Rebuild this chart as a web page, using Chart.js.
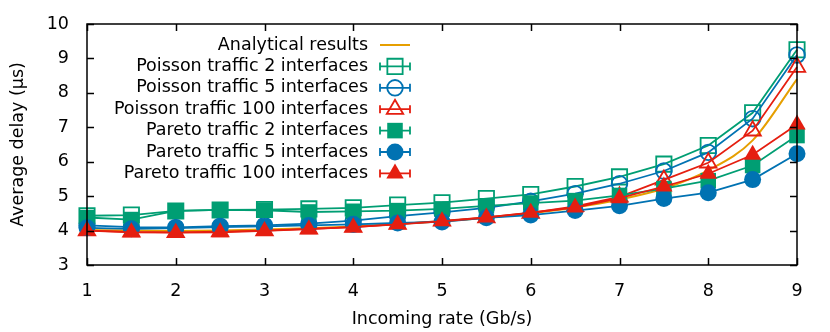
<!DOCTYPE html>
<html><head><meta charset="utf-8">
<script src="https://cdn.jsdelivr.net/npm/chart.js@4"></script>
<style>html,body{margin:0;padding:0;background:#fff}</style>
</head><body>
<canvas id="c" width="830" height="332"></canvas>
<script>
const rates = [1,1.5,2,2.5,3,3.5,4,4.5,5,5.5,6,6.5,7,7.5,8,8.5,9];
const analytical = [4.02,4.00,3.99,4.00,4.03,4.07,4.12,4.19,4.27,4.37,4.50,4.67,4.90,5.22,5.75,6.62,8.40];
const poisson2   = [4.43,4.45,4.57,4.60,4.61,4.63,4.66,4.74,4.81,4.93,5.05,5.28,5.56,5.93,6.47,7.42,9.25];
const poisson5   = [4.15,4.10,4.09,4.13,4.15,4.20,4.29,4.42,4.53,4.66,4.85,5.07,5.36,5.73,6.27,7.25,9.10];
const poisson100 = [4.00,3.96,3.95,3.97,4.00,4.05,4.10,4.19,4.28,4.38,4.51,4.70,4.98,5.47,5.97,6.90,8.75];
const pareto2    = [4.38,4.32,4.57,4.60,4.59,4.54,4.56,4.58,4.63,4.72,4.80,4.87,5.02,5.22,5.45,5.89,6.76];
const pareto5    = [4.08,4.05,4.07,4.10,4.12,4.15,4.18,4.22,4.25,4.37,4.45,4.58,4.72,4.93,5.10,5.48,6.23];
const pareto100  = [4.00,3.95,3.94,3.95,3.99,4.04,4.10,4.18,4.27,4.38,4.52,4.67,4.94,5.28,5.65,6.20,7.08];
const labels = ['Analytical results','Poisson traffic 2 interfaces','Poisson traffic 5 interfaces','Poisson traffic 100 interfaces','Pareto traffic 2 interfaces','Pareto traffic 5 interfaces','Pareto traffic 100 interfaces'];
const xTitle = 'Incoming rate (Gb/s)';
const yTitle = 'Average delay (µs)';

const GREEN='#009e73', BLUE='#0072b2', RED='#e51e10', ORANGE='#e69f00';
const FONT = "'DejaVu Sans', sans-serif";
const FS = 17.5;

function pts(arr){ return rates.map((x,i)=>({x:x,y:arr[i]})); }
function ds(label, arr, color, style, radius, filled, order){
  return {label, data: pts(arr), borderColor: color, backgroundColor: filled?color:'rgba(0,0,0,0)',
    pointBorderColor: color, pointBackgroundColor: filled?color:'rgba(0,0,0,0)',
    pointStyle: style, pointRadius: radius, pointHoverRadius: radius, pointBorderWidth: filled?0:1.8,
    borderWidth: 1.8, tension: 0, clip: false, order, _filled: filled};
}
const datasets = [
  {label: labels[0], data: pts(analytical), borderColor: ORANGE, borderWidth: 2, pointRadius: 0,
   cubicInterpolationMode: 'monotone', clip: false, order: 7, _noMarker: true},
  ds(labels[1], poisson2, GREEN, 'rect', 10.8, false, 6),
  ds(labels[2], poisson5, BLUE, 'circle', 7.8, false, 5),
  ds(labels[3], poisson100, RED, 'triangle', 9.5, false, 4),
  ds(labels[4], pareto2, GREEN, 'rect', 11, true, 3),
  ds(labels[5], pareto5, BLUE, 'circle', 8.5, true, 2),
  ds(labels[6], pareto100, RED, 'triangle', 10, true, 1),
];

function drawMarker(ctx, d, x, y){
  const r = d.pointRadius;
  ctx.save();
  ctx.strokeStyle = d.borderColor; ctx.fillStyle = d.borderColor;
  ctx.lineWidth = 1.8;
  ctx.beginPath();
  if (d.pointStyle === 'circle') { ctx.arc(x, y, r, 0, Math.PI*2); }
  else if (d.pointStyle === 'rect') { const s = r*Math.SQRT1_2; ctx.rect(x-s, y-s, 2*s, 2*s); }
  else {
    for (let k=0;k<3;k++){ const ang = -Math.PI/2 + k*2*Math.PI/3; const px = x + r*Math.cos(ang), py = y + r*Math.sin(ang); k?ctx.lineTo(px,py):ctx.moveTo(px,py);} ctx.closePath(); }
  if (d._filled) ctx.fill(); else ctx.stroke();
  ctx.restore();
}

const framePlugin = {
  id: 'frame',
  afterDatasetsDraw(chart){
    const {ctx, chartArea: a, scales} = chart;
    ctx.save();
    ctx.strokeStyle = '#000'; ctx.lineWidth = 1.5;
    ctx.strokeRect(a.left, a.top, a.right-a.left, a.bottom-a.top);
    const tl = 7;
    ctx.beginPath();
    scales.x.ticks.forEach(t => {
      const px = Math.round(scales.x.getPixelForValue(t.value))+0.5;
      ctx.moveTo(px, a.bottom); ctx.lineTo(px, a.bottom-tl);
      ctx.moveTo(px, a.top); ctx.lineTo(px, a.top+tl);
    });
    scales.y.ticks.forEach(t => {
      const py = Math.round(scales.y.getPixelForValue(t.value))+0.5;
      ctx.moveTo(a.left, py); ctx.lineTo(a.left+tl, py);
      ctx.moveTo(a.right, py); ctx.lineTo(a.right-tl, py);
    });
    ctx.stroke();
    // legend
    const textRight = 368, x0 = 380, x1 = 410, y0 = 45, step = 21.4;
    ctx.font = FS + "px " + FONT; ctx.textAlign = 'right'; ctx.textBaseline = 'middle';
    chart.data.datasets.forEach((d, i) => {
      const y = y0 + i*step;
      ctx.fillStyle = '#000';
      ctx.fillText(d.label, textRight, y);
      ctx.strokeStyle = d.borderColor; ctx.lineWidth = d._noMarker ? 2 : 1.8;
      ctx.beginPath(); ctx.moveTo(x0, y); ctx.lineTo(x1, y);
      if (!d._noMarker) { ctx.moveTo(x0, y-4); ctx.lineTo(x0, y+4); ctx.moveTo(x1, y-4); ctx.lineTo(x1, y+4); }
      ctx.stroke();
      if (!d._noMarker) drawMarker(ctx, d, (x0+x1)/2, y);
    });
    ctx.restore();
  }
};

new Chart(document.getElementById('c'), {
  type: 'line',
  data: { datasets },
  options: {
    responsive: false, animation: false, events: [],
    layout: { padding: { top: 24, right: 33, left: 0, bottom: 0 } },
    plugins: { legend: { display: false }, tooltip: { enabled: false } },
    scales: {
      x: { type: 'linear', min: 1, max: 9,
        ticks: { stepSize: 1, color: '#000', font: { family: FONT, size: FS }, padding: 8, maxRotation: 0 },
        grid: { display: false }, border: { display: false },
        title: { display: true, text: xTitle, color: '#000', font: { family: FONT, size: FS }, padding: { top: 0, bottom: 2 } },
        afterFit(s){ s.height = 67; } },
      y: { type: 'linear', min: 3, max: 10,
        ticks: { stepSize: 1, color: '#000', font: { family: FONT, size: FS }, padding: 10 },
        grid: { display: false }, border: { display: false },
        title: { display: true, text: yTitle, color: '#000', font: { family: FONT, size: FS }, padding: { top: 8, bottom: 0 } },
        afterFit(s){ s.width = 87; } }
    }
  },
  plugins: [framePlugin]
});
</script>
</body></html>
